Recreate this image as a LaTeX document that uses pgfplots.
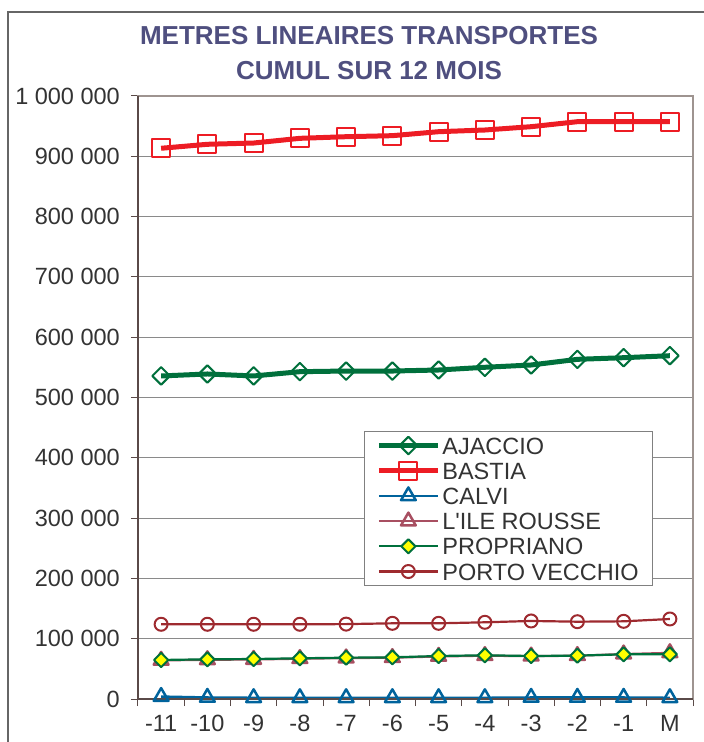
\documentclass[border=0pt]{standalone}
\usepackage{fontspec}
\setmainfont{Liberation Sans}[Ligatures=TeXOff]
\usepackage{pgfplots}
\pgfplotsset{compat=1.18}
\definecolor{ajac}{HTML}{00703C}
\definecolor{bast}{HTML}{ED1C24}
\definecolor{calv}{HTML}{00639C}
\definecolor{ile}{HTML}{A84F61}
\definecolor{prop}{HTML}{00703C}
\definecolor{propfill}{HTML}{FFFF00}
\definecolor{porto}{HTML}{9E2A2F}
\definecolor{titlecol}{HTML}{4F4F7F}
\definecolor{gridgray}{HTML}{8A8A8A}
\definecolor{boxgray}{HTML}{9E9490}
\definecolor{axisdark}{HTML}{5A4A48}
\definecolor{labcol}{HTML}{333333}
\definecolor{framecol}{HTML}{666666}
\begin{document}
\begin{tikzpicture}
\begin{axis}[
  at={(0,0)}, anchor=south west,
  scale only axis, width=555pt, height=603pt,
  xmin=-0.5, xmax=11.5, ymin=0, ymax=1000000,
  clip=false,
  scaled y ticks=false,
  xtick={0,1,2,3,4,5,6,7,8,9,10,11},
  xticklabels={-11,-10,-9,-8,-7,-6,-5,-4,-3,-2,-1,M},
  major x tick style={draw=none},
  minor xtick={-0.5,0.5,1.5,2.5,3.5,4.5,5.5,6.5,7.5,8.5,9.5,10.5,11.5},
  ytick={0,100000,200000,300000,400000,500000,600000,700000,800000,900000,1000000},
  yticklabels={0,100 000,200 000,300 000,400 000,500 000,600 000,700 000,800 000,900 000,1 000 000},
  ymajorgrids, grid style={draw=gridgray, line width=1pt},
  tick align=outside, tick pos=left,
  major tick length=7pt, minor tick length=7pt,
  every tick/.style={draw=axisdark, line width=1pt},
  minor tick style={draw=axisdark, line width=1pt},
  axis line style={draw=boxgray, line width=2pt},
  tick label style={font=\fontsize{23.5}{26}\selectfont, text=labcol, inner sep=0pt},
  yticklabel style={xshift=-11pt},
  xticklabel style={yshift=-9pt},
  legend style={at={(rel axis cs:0.407,0.4444)}, anchor=north west,
    draw=gray, line width=1pt, fill=white, inner xsep=12pt, inner ysep=1.4pt,
    font=\fontsize{23.5}{26}\selectfont, text=labcol,
    nodes={inner xsep=2pt, inner ysep=4.1pt, text height=17pt, text depth=0pt, anchor=west},
    row sep=0pt},
  legend cell align=left,
  legend image code/.code={\draw[mark repeat=2,mark phase=2,#1] plot coordinates {(0pt,0pt) (29.5pt,0pt) (59pt,0pt)};},
]
\addplot[color=ajac, line width=5pt, line join=round, mark=square, mark size=6.2pt,
  mark options={rotate=45, fill=white, line width=2pt, solid}]
  coordinates {(0,535700) (1,539000) (2,535700) (3,542800) (4,543900) (5,543900) (6,545600) (7,550100) (8,553900) (9,563300) (10,566000) (11,569300)};
\addlegendentry{AJACCIO}
\addplot[color=bast, line width=5pt, line join=round, mark=square, mark size=9pt,
  mark options={fill=white, line width=2pt, solid}]
  coordinates {(0,913300) (1,919900) (2,922000) (3,929800) (4,932500) (5,934200) (6,940800) (7,943600) (8,949100) (9,957400) (10,957400) (11,957400)};
\addlegendentry{BASTIA}
\addplot[color=calv, line width=2.5pt, line join=round, mark=triangle, mark size=8.5pt,
  mark options={fill=white, line width=2.5pt, solid}]
  coordinates {(0,4000) (1,2500) (2,2000) (3,2000) (4,2000) (5,2000) (6,2000) (7,2000) (8,2500) (9,2500) (10,2500) (11,2000)};
\addlegendentry{CALVI}
\addplot[color=ile, line width=2.2pt, line join=round, mark=triangle, mark size=8.5pt,
  mark options={fill=white, line width=2.5pt, solid}]
  coordinates {(0,64000) (1,65000) (2,65500) (3,66800) (4,67800) (5,68500) (6,70500) (7,71800) (8,71000) (9,71800) (10,74500) (11,76500)};
\addlegendentry{L'ILE ROUSSE}
\addplot[color=prop, line width=2.2pt, line join=round, mark=square*, mark size=5pt,
  mark options={rotate=45, fill=propfill, draw=prop, line width=2pt, solid}]
  coordinates {(0,64700) (1,65800) (2,66300) (3,67500) (4,68500) (5,69100) (6,71300) (7,72500) (8,71300) (9,71900) (10,74100) (11,74100)};
\addlegendentry{PROPRIANO}
\addplot[color=porto, line width=2.2pt, line join=round, mark=o, mark size=6.5pt,
  mark options={fill=white, line width=2pt, solid}]
  coordinates {(0,123900) (1,123900) (2,123900) (3,123900) (4,124200) (5,125500) (6,125500) (7,127200) (8,129400) (9,128200) (10,128800) (11,132700)};
\addlegendentry{PORTO VECCHIO}
\draw[axisdark, line width=2pt] (rel axis cs:0,1) -- (rel axis cs:0,0) -- (rel axis cs:1,0);
\end{axis}
\pgfresetboundingbox
\useasboundingbox (-138pt,-43pt) rectangle (566pt,699pt);
\draw[framecol, line width=1.5pt] (-130pt,-50pt) -- (-130pt,687pt) -- (580pt,687pt);
\node[anchor=base, text=titlecol, font=\fontsize{26}{30}\selectfont\bfseries, inner sep=0pt] at (231pt,654pt) {METRES LINEAIRES TRANSPORTES};
\node[anchor=base, text=titlecol, font=\fontsize{26}{30}\selectfont\bfseries, inner sep=0pt] at (231pt,619pt) {CUMUL SUR 12 MOIS};
\end{tikzpicture}
\end{document}
